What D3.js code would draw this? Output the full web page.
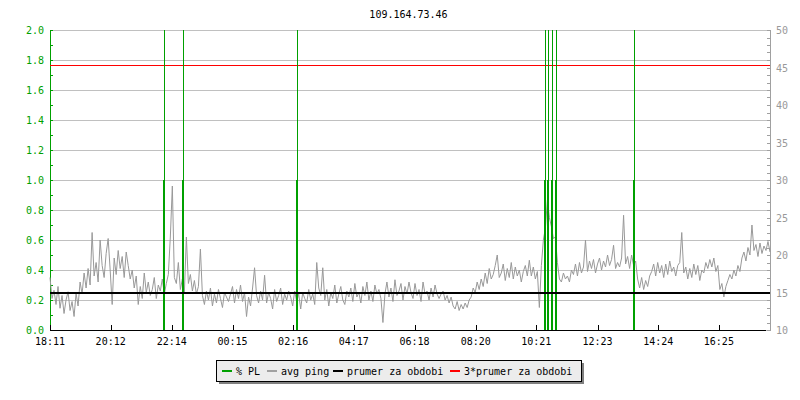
<!DOCTYPE html>
<html><head><meta charset="utf-8">
<script src="https://cdn.jsdelivr.net/npm/d3@7"></script>
<style>body{margin:0;background:#fff}svg{display:block}text{font-family:"DejaVu Sans Mono",monospace;font-size:10px}</style>
</head><body><svg id="c" width="800" height="400"></svg>
<script>
const title = "109.164.73.46";
const startTime = "18:11";
const stepMinutes = 4;
const xTickLabels = ["18:11","20:12","22:14","00:15","02:16","04:17","06:18","08:20","10:21","12:23","14:24","16:25"];
const plTicks = [0,0.2,0.4,0.6,0.8,1.0,1.2,1.4,1.6,1.8,2.0];
const pingTicks = [10,15,20,25,30,35,40,45,50];
// % packet loss events (time, value)
const plTimes = ["21:58","22:36","02:24","10:38","10:44","10:52","11:00","13:36"];
const plValues = [1,1,1,1,1,1,1,1];
// average ping (ms), one sample every 4 minutes from 18:11
const pingValues = [
17.0,14.2,15.3,13.4,15.8,12.9,14.6,12.2,14.0,15.1,12.6,13.8,11.8,14.9,13.2,
16.4,14.8,17.6,15.6,18.2,16.0,23.0,17.2,19.0,16.4,22.0,18.6,17.0,20.2,22.2,
18.0,13.4,19.6,17.4,20.6,18.2,19.8,17.0,20.4,18.6,16.8,18.0,15.6,17.2,13.4,
15.8,14.2,17.6,15.0,16.4,14.6,15.4,17.0,14.2,16.0,15.2,16.8,14.8,16.2,17.4,
22.4,29.2,17.0,16.2,19.0,15.4,16.8,15.0,22.4,16.2,17.4,15.2,16.6,14.8,15.8,
20.8,14.6,13.4,15.2,14.0,15.6,13.2,14.8,13.6,15.4,14.2,13.0,15.0,14.4,13.8,
14.8,15.8,13.6,15.4,14.2,16.0,13.8,15.0,11.8,14.4,13.2,15.6,18.3,14.6,13.6,
15.2,14.0,17.3,13.6,15.0,14.2,12.8,15.4,13.8,14.6,15.6,13.4,14.8,14.0,15.2,
14.4,13.2,15.2,13.8,14.8,12.8,15.0,14.2,13.6,15.4,14.0,14.8,13.4,19.0,15.6,
14.6,18.3,14.0,15.4,13.2,15.0,14.2,16.0,13.6,14.8,15.8,14.0,13.4,15.2,14.4,
15.6,13.8,16.2,14.4,15.0,13.6,15.8,14.6,16.4,14.0,15.2,13.8,16.0,14.8,15.4,
14.2,11.0,14.8,16.4,14.4,15.6,13.8,16.7,14.6,15.2,16.2,14.0,15.8,14.8,16.4,
15.0,14.2,16.2,14.6,15.4,13.8,16.4,14.8,15.2,14.0,15.6,14.4,16.0,14.8,14.2,
14.8,15.2,14.0,14.6,13.6,14.4,13.2,12.8,13.8,12.6,13.4,12.8,13.6,13.0,14.0,
14.4,15.6,15.0,16.4,15.4,16.8,15.8,17.6,16.2,18.2,16.8,17.4,18.6,20.0,17.0,
17.6,18.8,16.6,18.2,17.0,19.0,16.8,18.4,17.2,18.0,16.4,17.8,18.6,17.2,19.3,
17.2,18.4,16.8,17.8,13.0,18.6,22.0,23.6,27.3,25.0,23.8,22.2,22.4,19.0,16.8,
16.4,17.6,16.8,17.2,16.4,18.0,17.4,18.8,17.2,19.0,17.6,18.4,22.0,17.8,19.2,
18.2,19.4,17.6,18.8,19.6,18.0,19.2,18.4,20.0,18.6,19.4,21.3,18.2,19.0,18.4,
19.6,25.3,18.8,19.8,18.2,20.0,18.6,19.2,16.8,15.6,17.0,15.4,16.6,15.8,17.2,
17.8,18.8,17.2,19.0,17.6,18.6,17.0,18.8,17.4,19.2,17.8,18.4,17.2,18.6,19.0,
23.0,17.6,18.4,16.8,18.2,17.0,18.8,17.4,18.6,16.6,18.0,17.6,19.0,18.2,19.4,
18.4,19.6,17.8,18.6,15.4,16.2,14.4,15.8,16.6,17.4,16.8,18.0,17.2,18.6,17.8,
19.6,20.4,19.2,21.0,20.0,24.0,20.6,21.4,19.8,21.6,20.2,21.2,20.6,21.8,20.4];
const avgPing = 15.1;
const avgPing3 = 45.3;
const legendLabels = ["% PL","avg ping","prumer za obdobi","3*prumer za obdobi"];
const legendColors = ["#00a000","#a0a0a0","#000000","#ff0000"];

const toMin = s => { const [h,m] = s.split(":").map(Number); const [h0,m0] = startTime.split(":").map(Number);
  return ((h*60+m) - (h0*60+m0) + 1440) % 1440; };

const svg = d3.select("#c");
const L = 50, R = 770, T = 30, B = 330;
const x = d3.scaleLinear().domain([0,1436]).range([L,R]);
const yL = d3.scaleLinear().domain([0,2]).range([B,T]);
const yR = d3.scaleLinear().domain([10,50]).range([B,T]);
const green = "#00a000", grey = "#a0a0a0";

svg.append("text").attr("x",408.5).attr("y",18).attr("text-anchor","middle").text(title);

// grid lines
svg.append("g").selectAll("line").data(plTicks).join("line")
  .attr("x1",L).attr("x2",R).attr("y1",d=>Math.round(yL(d))+0.5).attr("y2",d=>Math.round(yL(d))+0.5)
  .attr("stroke","#c0c0c0");

// left axis
const minorL = d3.range(0,21).map(i=>i/10);
const gl = svg.append("g");
gl.append("line").attr("x1",L+0.5).attr("x2",L+0.5).attr("y1",T).attr("y2",B).attr("stroke",green);
gl.selectAll("line.t").data(minorL).join("line").attr("class","t")
  .attr("x1",L).attr("x2",L+3).attr("y1",d=>Math.round(yL(d))+0.5).attr("y2",d=>Math.round(yL(d))+0.5).attr("stroke",green);
gl.selectAll("text").data(plTicks).join("text")
  .attr("x",44).attr("y",d=>yL(d)+4).attr("text-anchor","end").attr("fill",green).text(d=>d.toFixed(1));

// right axis
const minorR = d3.range(10,51);
const gr = svg.append("g");
gr.append("line").attr("x1",R+0.5).attr("x2",R+0.5).attr("y1",T).attr("y2",B).attr("stroke",grey);
gr.selectAll("line.t").data(minorR).join("line").attr("class","t")
  .attr("x1",R-3).attr("x2",R+1).attr("y1",d=>Math.round(yR(d))+0.5).attr("y2",d=>Math.round(yR(d))+0.5).attr("stroke",grey);
gr.selectAll("text").data(pingTicks).join("text")
  .attr("x",776).attr("y",d=>yR(d)+4).attr("fill","#999").text(d=>d);

// red line
svg.append("line").attr("x1",L).attr("x2",R).attr("y1",Math.round(yR(avgPing3))+0.5).attr("y2",Math.round(yR(avgPing3))+0.5)
  .attr("stroke","#ff0000");

// ping line
const line = d3.line().x((d,i)=>x(i*stepMinutes)).y(d=>yR(d));
svg.append("path").datum(pingValues).attr("d",line).attr("fill","none").attr("stroke","#999").attr("stroke-width",1);

// packet loss bars
const pl = svg.append("g");
plTimes.forEach((t,i)=>{
  const px = Math.round(x(toMin(t)));
  pl.append("rect").attr("x",px-1).attr("width",2).attr("y",yL(plValues[i])).attr("height",B-yL(plValues[i])).attr("fill",green);
  pl.append("line").attr("x1",px+0.5).attr("x2",px+0.5).attr("y1",T).attr("y2",B).attr("stroke",green);
});

// avg line
svg.append("rect").attr("x",L).attr("width",R-L).attr("y",Math.round(yR(avgPing))).attr("height",2).attr("fill","#000");

// bottom axis
const gb = svg.append("g");
gb.append("line").attr("x1",L).attr("x2",766).attr("y1",B+0.5).attr("y2",B+0.5).attr("stroke","#000");
const xt = xTickLabels.map(toMin);
gb.selectAll("line.t").data(xt).join("line").attr("class","t")
  .attr("x1",d=>Math.round(x(d))+0.5).attr("x2",d=>Math.round(x(d))+0.5).attr("y1",B-5).attr("y2",B).attr("stroke","#000");
gb.selectAll("text").data(xTickLabels).join("text")
  .attr("x",d=>x(toMin(d))).attr("y",345).attr("text-anchor","middle").text(d=>d);

// legend
const lg = svg.append("g");
lg.append("rect").attr("x",219).attr("y",363).attr("width",365).attr("height",21).attr("fill","#808080");
lg.append("rect").attr("x",216.5).attr("y",360.5).attr("width",365).attr("height",21).attr("fill","#ececec").attr("stroke","#000");
const lx = [222,267,333,450];
legendLabels.forEach((s,i)=>{
  lg.append("rect").attr("x",lx[i]).attr("y",370).attr("width",10).attr("height",2).attr("fill",legendColors[i]);
  lg.append("text").attr("x",lx[i]+14).attr("y",374.5).text(s);
});
</script></body></html>
